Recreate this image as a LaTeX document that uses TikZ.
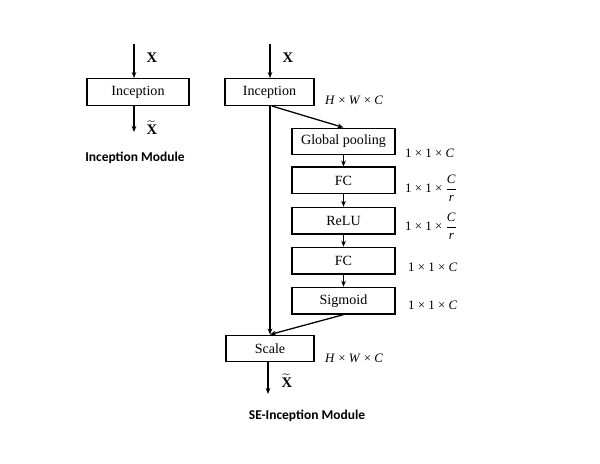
\documentclass[tikz,border=0pt]{standalone}
\usepackage{amsmath,amssymb}
\usepackage{fontspec}
\setmainfont{Liberation Serif}
\newfontfamily\labelfont{Carlito}
\usepackage{xcolor}
\usepackage{tikz}
\usetikzlibrary{arrows.meta,positioning}

\begin{document}
\begin{tikzpicture}[x=0.03cm, y=-0.03cm,
        block/.style={draw, line width=1.1pt, minimum height=0.8cm, inner sep=0pt,
                      font=\fontsize{12}{14}\selectfont},
        wide/.style={block, minimum width=3.09cm},
        dim/.style={anchor=west, inner sep=0pt, font=\fontsize{11}{13}\selectfont},
        var/.style={inner sep=0pt, font=\fontsize{12.5}{15}\selectfont},
        caption/.style={font=\labelfont\bfseries\fontsize{11.5}{14}\selectfont},
        arrow/.style={-{Stealth[length=1.8mm, width=1.4mm]}, line width=0.9pt},
        link/.style={arrow, line width=1.1pt}
    ]
        \useasboundingbox (0,0) rectangle (600,463);

        % plain module
        \node[block, minimum width=3.06cm] (inc) at (138,92) {Inception};
        \coordinate (incin) at (134,44);
        \coordinate (incout) at (134,132);
        \draw[arrow] (incin) -- (incin |- inc.north);
        \draw[arrow] (incout |- inc.south) -- (incout);
        \node[var] (x1) at (152,58) {\textbf{X}};
        \node[var] (y1) at (152,128) {$\widetilde{\text{\textbf{X}}}$};
        \node[caption] (cap1) at (135,158) {Inception Module};

        % SE module
        \node[block, minimum width=2.67cm] (seinc) at (269.5,92) {Inception};
        \node[wide] (pool) at (343.5,141.5) {Global pooling};
        \node[wide, below=0.33cm of pool] (fc1) {FC};
        \node[wide, below=0.37cm of fc1] (relu) {ReLU};
        \node[wide, below=0.36cm of relu] (fc2) {FC};
        \node[wide, below=0.36cm of fc2] (sig) {Sigmoid};
        \node[block, minimum width=2.64cm] (scale) at (270,348.5) {Scale};

        \coordinate (sein) at (270,44);
        \coordinate (seout) at (268,394);
        \draw[arrow] (sein) -- (sein |- seinc.north);
        \draw[link] (270,0 |- seinc.south) -- (270,0 |- scale.north);
        \draw[link] ([xshift=2pt]seinc.south) -- (pool.north);
        \draw[arrow] (pool) -- (fc1);
        \draw[arrow] (fc1) -- (relu);
        \draw[arrow] (relu) -- (fc2);
        \draw[arrow] (fc2) -- (sig);
        \draw[link] (sig.south) -- (scale.north);
        \draw[arrow] (seout |- scale.south) -- (seout);

        \node[var] (x2) at (288,58) {\textbf{X}};
        \node[var] (y2) at (287,381) {$\widetilde{\text{\textbf{X}}}$};
        \node[caption] (cap2) at (307,416) {SE-Inception Module};

        \node[dim] (d1) at (325,100) {\textit{H} × \textit{W} × \textit{C}};
        \node[dim] (d2) at (405,153) {1 × 1 × \textit{C}};
        \node[dim] (d3) at (405,188) {1 × 1 × $\dfrac{\text{\textit{C}}}{\text{\textit{r}}}$};
        \node[dim] (d4) at (405,226) {1 × 1 × $\dfrac{\text{\textit{C}}}{\text{\textit{r}}}$};
        \node[dim] (d5) at (408,267) {1 × 1 × \textit{C}};
        \node[dim] (d6) at (408,305) {1 × 1 × \textit{C}};
        \node[dim] (d7) at (325,358) {\textit{H} × \textit{W} × \textit{C}};
    \end{tikzpicture}
\end{document}
